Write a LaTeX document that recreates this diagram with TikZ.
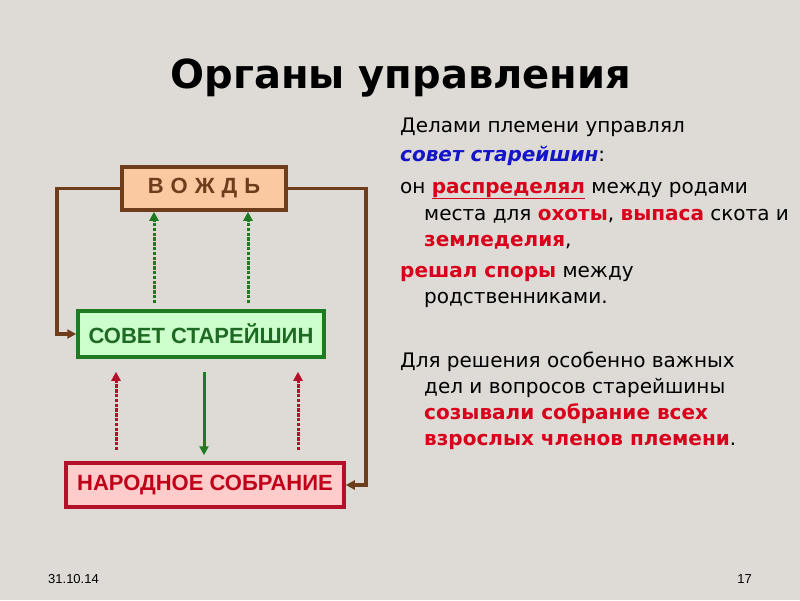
\documentclass[tikz,border=0pt]{standalone}
\usepackage{fontspec}
\setmainfont{DejaVu Sans}
\newfontfamily\arialf{Liberation Sans}
\usetikzlibrary{arrows.meta}
\definecolor{bgc}{HTML}{DEDAD5}
\definecolor{brownc}{HTML}{6E3D1C}
\definecolor{peach}{HTML}{FAC9A2}
\definecolor{greenb}{HTML}{1F7A22}
\definecolor{greenf}{HTML}{CCFFCC}
\definecolor{greent}{HTML}{1E6A22}
\definecolor{redb}{HTML}{B5102A}
\definecolor{redf}{HTML}{FFCCCC}
\definecolor{redt}{HTML}{C00018}
\definecolor{hred}{HTML}{D8001A}
\definecolor{hblue}{HTML}{1414C8}
\tikzset{
  box/.style={draw, line width=3.5pt, inner sep=0pt, font=\arialf\bfseries\fontsize{22}{24}\selectfont},
  brownline/.style={draw=brownc, line width=3.5pt, -{Triangle[length=9pt,width=9pt]}},
  greenup/.style={draw=greenb, line width=3pt, dash pattern=on 3.5pt off 1.3pt, -{Triangle[length=9pt,width=9pt]}},
  greendown/.style={draw=greenb, line width=3pt, -{Triangle[length=9pt,width=9pt]}},
  redup/.style={draw=redb, line width=3pt, dash pattern=on 3.5pt off 1.3pt, -{Triangle[length=9pt,width=9pt]}},
  txt/.style={anchor=base west, inner sep=0pt, font=\fontsize{20}{22}\selectfont},
}
\newcommand{\hr}[1]{\textcolor{hred}{\textbf{#1}}}
\newcommand{\gapv}{\hspace{7pt}}
\begin{document}
\begin{tikzpicture}[x=1pt,y=-1pt]
\fill[bgc] (0,0) rectangle (800,600);
\useasboundingbox (0,0) rectangle (800,600);

\node[inner sep=0pt, font=\bfseries\fontsize{40}{44}\selectfont] (title) at (401,78) {Органы управления};

\node[box, fill=peach, draw=brownc, text=brownc, minimum width=164pt, minimum height=43pt] (vozhd) at (204,188.5) {В\gapv О\gapv Ж\gapv Д\gapv Ь};
\node[box, fill=greenf, draw=greenb, text=greent, minimum width=246pt, minimum height=46pt] (sovet) at (201,334) {СОВЕТ СТАРЕЙШИН};
\node[box, fill=redf, draw=redb, text=redt, minimum width=278pt, minimum height=44pt] (narod) at (205,485) {НАРОДНОЕ СОБРАНИЕ};

\coordinate (lc) at (57,188.5);
\coordinate (rc) at (366,188.5);
\draw[brownline] (vozhd.west) -- (lc) |- (sovet.west);
\draw[brownline] (vozhd.east) -- (rc) |- (narod.east);

\draw[greenup, shorten <=6pt] ([xshift=-47pt]sovet.north) -- ([xshift=-50pt]vozhd.south);
\draw[greenup, shorten <=6pt] ([xshift=47pt]sovet.north) -- ([xshift=44pt]vozhd.south);
\draw[greendown, shorten <=13pt, shorten >=6pt] ([xshift=3pt]sovet.south) -- ([xshift=-1pt]narod.north);
\draw[redup, shorten <=11pt, shorten >=13pt] ([xshift=-89pt]narod.north) -- ([xshift=-85pt]sovet.south);
\draw[redup, shorten <=11pt, shorten >=13pt] ([xshift=93pt]narod.north) -- ([xshift=97pt]sovet.south);

\node[txt] (t1) at (400,132) {Делами племени управлял};
\node[txt] (t2) at (400,161) {\textcolor{hblue}{\textbf{\textit{совет старейшин}}}:};
\node[txt] (t3) at (400,193) {он \textcolor{hred}{\underline{\textbf{распределял}}} между родами};
\node[txt] (t4) at (424,220) {места для \hr{охоты}, \hr{выпаса} скота и};
\node[txt] (t5) at (424,246) {\hr{земледелия},};
\node[txt] (t6) at (400,277) {\hr{решал споры} между};
\node[txt] (t7) at (424,303) {родственниками.};
\node[txt] (t8) at (400,367) {Для решения особенно важных};
\node[txt] (t9) at (424,393) {дел и вопросов старейшины};
\node[txt] (t10) at (424,419) {\hr{созывали собрание всех}};
\node[txt] (t11) at (424,445) {\hr{взрослых членов племени}.};

\node[anchor=base west, inner sep=0pt, font=\arialf\fontsize{13}{14}\selectfont] (date) at (48,583) {31.10.14};
\node[anchor=base east, inner sep=0pt, font=\arialf\fontsize{13}{14}\selectfont] (page) at (752,583) {17};
\end{tikzpicture}
\end{document}
